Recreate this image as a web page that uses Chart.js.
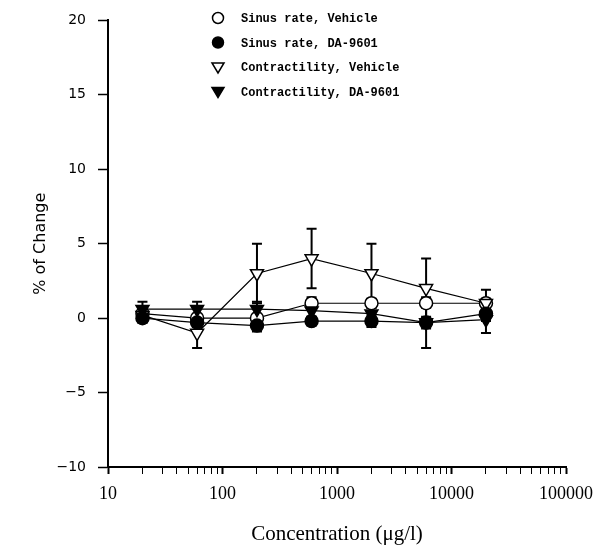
<!DOCTYPE html>
<html>
<head>
<meta charset="utf-8">
<script src="https://cdn.jsdelivr.net/npm/chart.js@4.4.0/dist/chart.umd.min.js"></script>
<style>
  html, body { margin: 0; padding: 0; background: #fff; }
</style>
</head>
<body>
<canvas id="chart" width="610" height="552"></canvas>
<script>
// concentrations (ug/l)
const concentration = [20, 60, 200, 600, 2000, 6000, 20000];

const sinusVehicle    = [0.3, 0.0, 0.0, 1.0, 1.0, 1.0, 1.0];
const sinusVehicleErr = [0.4, 0.3, 0.3, 0.4, 0.3, 0.3, 0.3];
const sinusDA         = [0.0, -0.3, -0.5, -0.2, -0.2, -0.3, 0.3];
const sinusDAErr      = [0.3, 0.3, 0.4, 0.3, 0.4, 1.7, 0.5];
const contrVehicle    = [0.2, -1.0, 3.0, 4.0, 3.0, 2.0, 1.0];
const contrVehicleErr = [0.5, 1.0, 2.0, 2.0, 2.0, 2.0, 0.9];
const contrDA         = [0.6, 0.6, 0.6, 0.5, 0.3, -0.3, -0.1];
const contrDAErr      = [0.5, 0.5, 0.5, 0.4, 0.4, 0.4, 0.9];

const yTicks = [-10, -5, 0, 5, 10, 15, 20];
const xDecades = [10, 100, 1000, 10000, 100000];

function pts(ys) {
  return concentration.map((x, i) => ({ x: x, y: ys[i] }));
}

function makeSet(label, ys, errs, style, filled, order) {
  const tri = style === 'triangle';
  return {
    label: label,
    data: pts(ys),
    errors: errs,
    order: order,
    borderColor: '#000',
    borderWidth: 1.2,
    backgroundColor: filled ? '#000' : '#fff',
    pointBackgroundColor: filled ? '#000' : '#fff',
    pointBorderColor: '#000',
    pointBorderWidth: 1.5,
    pointStyle: style,
    pointRotation: tri ? 180 : 0,
    pointRadius: tri ? 7.5 : 6.5,
    pointHoverRadius: tri ? 7.5 : 6.5,
    tension: 0,
    fill: false
  };
}

// error bars, drawn under the markers
const errorBars = {
  id: 'errorBars',
  beforeDatasetsDraw(chart) {
    const { ctx, scales: { x, y } } = chart;
    ctx.save();
    ctx.strokeStyle = '#000';
    ctx.lineWidth = 2;
    chart.data.datasets.forEach(ds => {
      ds.data.forEach((p, i) => {
        const e = ds.errors[i];
        const px = x.getPixelForValue(p.x);
        const top = y.getPixelForValue(p.y + e);
        const bot = y.getPixelForValue(p.y - e);
        ctx.beginPath();
        ctx.moveTo(px, top);
        ctx.lineTo(px, bot);
        ctx.moveTo(px - 5, top);
        ctx.lineTo(px + 5, top);
        ctx.moveTo(px - 5, bot);
        ctx.lineTo(px + 5, bot);
        ctx.stroke();
      });
    });
    ctx.restore();
  }
};

// legend inside the plot, top
const insideLegend = {
  id: 'insideLegend',
  afterDraw(chart) {
    const ctx = chart.ctx;
    const mx = 218, tx = 241, y0 = 18, dy = 24.5;
    ctx.save();
    ctx.font = 'bold 12px "Liberation Mono"';
    ctx.textBaseline = 'middle';
    chart.data.datasets.forEach((ds, i) => {
      const cy = y0 + i * dy;
      ctx.lineWidth = 1.5;
      ctx.strokeStyle = '#000';
      ctx.fillStyle = ds.pointBackgroundColor;
      ctx.beginPath();
      if (ds.pointStyle === 'circle') {
        ctx.arc(mx, cy, 5.5, 0, Math.PI * 2);
      } else {
        ctx.moveTo(mx - 6, cy - 4);
        ctx.lineTo(mx + 6, cy - 4);
        ctx.lineTo(mx, cy + 6);
        ctx.closePath();
      }
      ctx.fill();
      ctx.stroke();
      ctx.fillStyle = '#000';
      ctx.fillText(ds.label, tx, cy + 1);
    });
    ctx.restore();
  }
};

const ctx = document.getElementById('chart').getContext('2d');
new Chart(ctx, {
  type: 'line',
  data: {
    datasets: [
      makeSet('Sinus rate, Vehicle', sinusVehicle, sinusVehicleErr, 'circle', false, 3),
      makeSet('Sinus rate, DA-9601', sinusDA, sinusDAErr, 'circle', true, 0),
      makeSet('Contractility, Vehicle', contrVehicle, contrVehicleErr, 'triangle', false, 2),
      makeSet('Contractility, DA-9601', contrDA, contrDAErr, 'triangle', true, 1)
    ]
  },
  options: {
    responsive: false,
    animation: false,
    layout: { padding: { top: 16, right: 44, left: 0, bottom: 0 } },
    plugins: {
      legend: { display: false },
      tooltip: { enabled: false }
    },
    scales: {
      x: {
        type: 'logarithmic',
        min: 10,
        max: 100000,
        afterFit(s) { s.height = 85; },
        afterBuildTicks(s) {
          const t = [];
          xDecades.forEach((d, k) => {
            if (k === xDecades.length - 1) { t.push({ value: d, major: true }); return; }
            for (let m = 1; m < 10; m++) t.push({ value: d * m, major: m === 1 });
          });
          s.ticks = t;
        },
        border: { display: true, color: '#000', width: 2 },
        grid: {
          drawOnChartArea: false,
          drawTicks: true,
          tickLength: 7,
          tickColor: '#000',
          tickWidth: c => (c.tick && c.tick.major ? 2 : 1)
        },
        ticks: {
          autoSkip: false,
          maxRotation: 0,
          padding: 9,
          color: '#000',
          font: { family: '"Liberation Serif"', size: 18 },
          callback: (v) => (xDecades.includes(v) ? String(v) : '')
        },
        title: {
          display: true,
          text: 'Concentration (μg/l)',
          color: '#000',
          font: { family: '"Liberation Serif"', size: 21 },
          padding: { top: 0, bottom: 5 }
        }
      },
      y: {
        type: 'linear',
        min: -10,
        max: 20,
        afterFit(s) { s.width = 108; },
        afterBuildTicks(s) { s.ticks = yTicks.map(v => ({ value: v })); },
        border: { display: true, color: '#000', width: 2 },
        grid: {
          drawOnChartArea: false,
          drawTicks: true,
          tickLength: 10,
          tickColor: '#000',
          tickWidth: 1.5
        },
        ticks: {
          padding: 12,
          color: '#000',
          font: { family: '"DejaVu Sans"', size: 14 },
          callback: v => (v < 0 ? '\u2212' + Math.abs(v) : String(v))
        },
        title: {
          display: true,
          text: '% of Change',
          color: '#000',
          font: { family: '"DejaVu Sans"', size: 16 },
          padding: { top: 31, bottom: 0 }
        }
      }
    }
  },
  plugins: [errorBars, insideLegend]
});
</script>
</body>
</html>
